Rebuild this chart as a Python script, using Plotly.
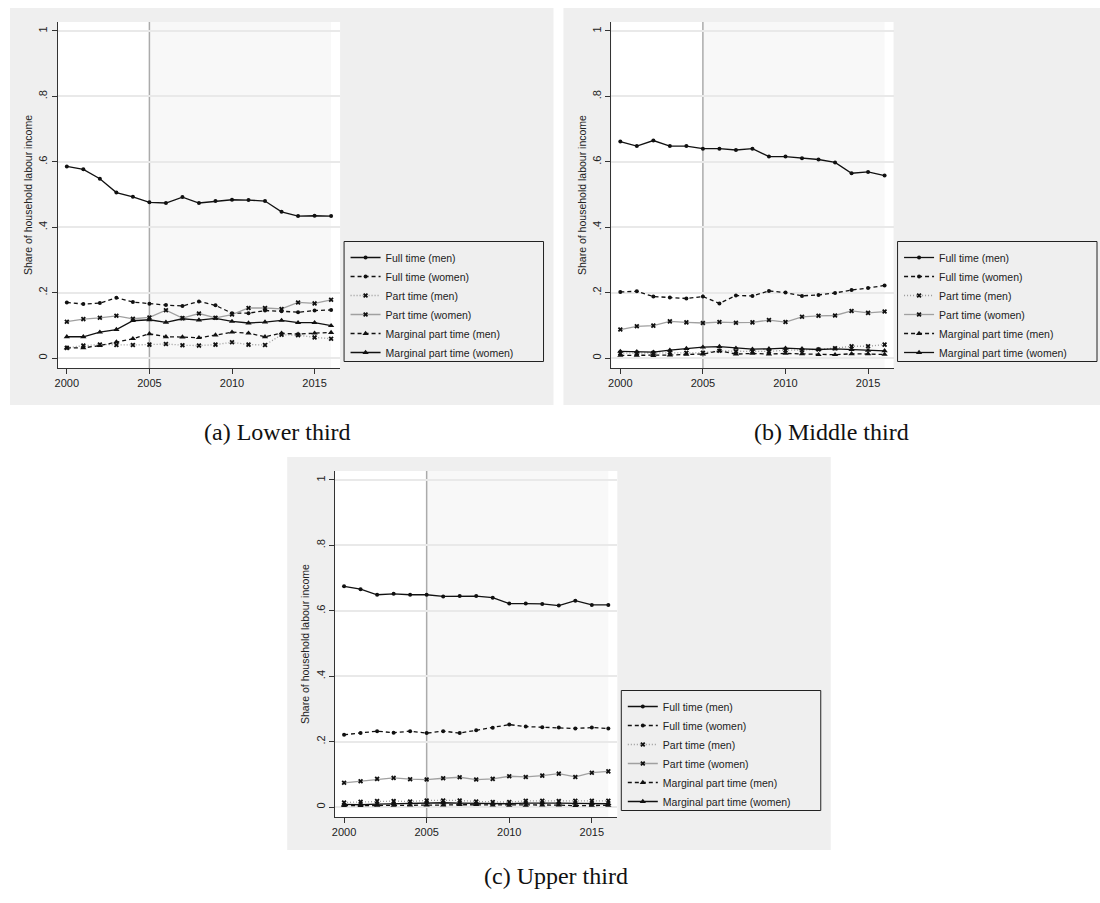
import plotly.graph_objects as go

years = list(range(2000, 2017))

series_names = [
    "Full time (men)",
    "Full time (women)",
    "Part time (men)",
    "Part time (women)",
    "Marginal part time (men)",
    "Marginal part time (women)",
]

# Lower third of the household income distribution
lower_ft_men = [0.586, 0.577, 0.548, 0.506, 0.493, 0.476, 0.474, 0.492, 0.474, 0.480,
                0.484, 0.483, 0.480, 0.447, 0.434, 0.435, 0.434]
lower_ft_women = [0.170, 0.165, 0.168, 0.184, 0.171, 0.166, 0.162, 0.159, 0.173, 0.161,
                  0.137, 0.137, 0.145, 0.143, 0.140, 0.145, 0.147]
lower_pt_men = [0.031, 0.038, 0.041, 0.040, 0.040, 0.041, 0.043, 0.039, 0.038, 0.041,
                0.048, 0.041, 0.040, 0.071, 0.070, 0.063, 0.059]
lower_pt_women = [0.111, 0.119, 0.123, 0.129, 0.120, 0.124, 0.146, 0.122, 0.136, 0.123,
                  0.133, 0.153, 0.153, 0.150, 0.170, 0.167, 0.178]
lower_mpt_men = [0.031, 0.031, 0.038, 0.049, 0.059, 0.074, 0.065, 0.064, 0.062, 0.070,
                 0.079, 0.076, 0.065, 0.076, 0.073, 0.076, 0.078]
lower_mpt_women = [0.065, 0.065, 0.079, 0.087, 0.114, 0.117, 0.109, 0.120, 0.116, 0.121,
                   0.112, 0.107, 0.110, 0.115, 0.108, 0.108, 0.099]

# Middle third
middle_ft_men = [0.662, 0.648, 0.665, 0.648, 0.648, 0.640, 0.640, 0.636, 0.640, 0.616,
                 0.616, 0.611, 0.607, 0.598, 0.565, 0.569, 0.558]
middle_ft_women = [0.202, 0.204, 0.188, 0.185, 0.182, 0.188, 0.167, 0.191, 0.190, 0.205,
                   0.200, 0.190, 0.193, 0.199, 0.208, 0.214, 0.222]
middle_pt_men = [0.015, 0.015, 0.015, 0.017, 0.016, 0.016, 0.022, 0.020, 0.020, 0.020,
                 0.024, 0.024, 0.026, 0.030, 0.036, 0.036, 0.041]
middle_pt_women = [0.087, 0.097, 0.099, 0.112, 0.109, 0.107, 0.110, 0.108, 0.109, 0.116,
                   0.110, 0.126, 0.129, 0.130, 0.144, 0.138, 0.142]
middle_mpt_men = [0.008, 0.008, 0.007, 0.009, 0.011, 0.012, 0.022, 0.012, 0.014, 0.012,
                  0.014, 0.013, 0.010, 0.010, 0.013, 0.013, 0.011]
middle_mpt_women = [0.020, 0.019, 0.018, 0.024, 0.029, 0.033, 0.035, 0.030, 0.027, 0.028,
                    0.030, 0.028, 0.026, 0.028, 0.026, 0.023, 0.022]

# Upper third
upper_ft_men = [0.675, 0.666, 0.649, 0.652, 0.649, 0.649, 0.644, 0.645, 0.645, 0.640,
                0.622, 0.622, 0.621, 0.616, 0.631, 0.618, 0.618]
upper_ft_women = [0.221, 0.226, 0.232, 0.227, 0.232, 0.226, 0.232, 0.226, 0.235, 0.242,
                  0.252, 0.246, 0.244, 0.243, 0.240, 0.243, 0.240]
upper_pt_men = [0.014, 0.016, 0.018, 0.018, 0.017, 0.020, 0.020, 0.020, 0.017, 0.015,
                0.015, 0.019, 0.019, 0.018, 0.019, 0.019, 0.019]
upper_pt_women = [0.074, 0.079, 0.086, 0.089, 0.085, 0.084, 0.088, 0.091, 0.084, 0.086,
                  0.094, 0.092, 0.096, 0.102, 0.092, 0.105, 0.109]
upper_mpt_men = [0.004, 0.004, 0.005, 0.005, 0.006, 0.006, 0.006, 0.007, 0.007, 0.006,
                 0.005, 0.005, 0.006, 0.006, 0.004, 0.005, 0.005]
upper_mpt_women = [0.008, 0.007, 0.009, 0.010, 0.013, 0.014, 0.013, 0.012, 0.011, 0.010,
                   0.010, 0.012, 0.013, 0.012, 0.011, 0.010, 0.010]

panel_captions = ["(a) Lower third", "(b) Middle third", "(c) Upper third"]
x_tick_vals = [2000, 2005, 2010, 2015]
y_tick_vals = [0, 0.2, 0.4, 0.6, 0.8, 1]
y_tick_text = ["0", ".2", ".4", ".6", ".8", "1"]
y_title = "Share of household labour income"
reform_year = 2005

panels = [
    [lower_ft_men, lower_ft_women, lower_pt_men, lower_pt_women, lower_mpt_men, lower_mpt_women],
    [middle_ft_men, middle_ft_women, middle_pt_men, middle_pt_women, middle_mpt_men, middle_mpt_women],
    [upper_ft_men, upper_ft_women, upper_pt_men, upper_pt_women, upper_mpt_men, upper_mpt_women],
]

# line / marker style for each series
styles = [
    dict(color="#111111", dash="solid", symbol="circle", size=4),
    dict(color="#111111", dash="4px,3px", symbol="circle", size=4),
    dict(color="#9a9a9a", dash="1px,2px", symbol="x", size=4.5),
    dict(color="#a0a0a0", dash="solid", symbol="x", size=4.5),
    dict(color="#111111", dash="4px,3px", symbol="triangle-up", size=5.5),
    dict(color="#111111", dash="solid", symbol="triangle-up", size=5.5),
]

W, H = 1100, 903
FONT = "Liberation Sans, Arial, sans-serif"


def px(x):
    return x / W


def py(y):
    return 1 - y / H


# pixel offsets of each panel relative to the first one
offsets = [(0, 0), (555, 0), (278, 449)]
# bottom edge of each grey panel backdrop, in pixels
bg_bottoms = [405, 405, 850]

# geometry of the first panel, in pixels
BG = (7, 8, 552)               # grey panel background (left, top, right)
PLOT = (55, 22, 338, 368)      # plot region
LEG = (342, 241.5, 542, 361.5)  # legend frame

x_range = [2000 - 9 / 16.5625, 2016 + 9 / 16.5625]
y_range = [-10 / 327.5, 1 + 9 / 327.5]

fig = go.Figure()
shapes = []
annotations = []
layout = dict(
    width=W, height=H,
    margin=dict(l=0, r=0, t=0, b=0),
    paper_bgcolor="white",
    plot_bgcolor="white",
    font=dict(family=FONT, color="#222222"),
)

for i, (dx, dy) in enumerate(offsets):
    n = "" if i == 0 else str(i + 1)
    xa, ya = "x" + n, "y" + n
    leg = "legend" + n

    # grey backdrop, then white plot region
    shapes.append(dict(type="rect", xref="paper", yref="paper", layer="below",
                       x0=px(BG[0] + dx), x1=px(min(BG[2] + dx, W)),
                       y0=py(bg_bottoms[i]), y1=py(BG[1] + dy),
                       fillcolor="#efefef", line=dict(width=0)))
    shapes.append(dict(type="rect", xref="paper", yref="paper", layer="below",
                       x0=px(PLOT[0] + dx), x1=px(PLOT[2] + dx),
                       y0=py(PLOT[3] + dy), y1=py(PLOT[1] + dy),
                       fillcolor="white", line=dict(width=0)))
    # post-reform period shading and reform line
    shapes.append(dict(type="rect", xref=xa, yref=ya + " domain", layer="below",
                       x0=reform_year, x1=years[-1], y0=0, y1=1,
                       fillcolor="#f8f8f8", line=dict(width=0)))
    shapes.append(dict(type="line", xref=xa, yref=ya + " domain", layer="below",
                       x0=reform_year, x1=reform_year, y0=0, y1=1,
                       line=dict(color="#ababab", width=1.5)))
    # legend frame
    shapes.append(dict(type="rect", xref="paper", yref="paper", layer="above",
                       x0=px(LEG[0] + dx), x1=px(LEG[2] + dx),
                       y0=py(LEG[3] + dy), y1=py(LEG[1] + dy),
                       fillcolor="rgba(255,255,255,0)",
                       line=dict(color="#222222", width=1)))

    for name, vals, st in zip(series_names, panels[i], styles):
        fig.add_trace(go.Scatter(
            x=years, y=vals, name=name, mode="lines+markers",
            xaxis=xa, yaxis=ya, legend=leg,
            line=dict(color=st["color"], dash=st["dash"], width=1.3),
            marker=dict(symbol=st["symbol"], size=st["size"], color="#111111",
                        line=dict(width=0)),
            hoverinfo="skip",
        ))

    layout["xaxis" + n] = dict(
        domain=[px(PLOT[0] + dx), px(PLOT[2] + dx)],
        range=x_range, anchor=ya,
        tickvals=x_tick_vals, ticks="outside", ticklen=5, tickwidth=1,
        tickcolor="#333333", showline=True, linecolor="#333333", linewidth=1.2,
        showgrid=False, zeroline=False,
        tickfont=dict(size=11, family=FONT, color="#222222"),
        fixedrange=True,
    )
    layout["yaxis" + n] = dict(
        domain=[py(PLOT[3] + dy), py(PLOT[1] + dy)],
        range=y_range, anchor=xa,
        tickvals=y_tick_vals, ticktext=y_tick_text, tickangle=-90,
        ticks="outside", ticklen=5, tickwidth=1, tickcolor="#333333",
        showline=True, linecolor="#333333", linewidth=1.2,
        showgrid=True, gridcolor="#e9e9e9", gridwidth=1.5, zeroline=False,
        tickfont=dict(size=11, family=FONT, color="#222222"),
        title=dict(text=y_title, font=dict(size=10.5, family=FONT, color="#222222"),
                   standoff=2),
        fixedrange=True,
    )
    layout[leg] = dict(
        x=px(LEG[0] + dx + 1.5), y=py(LEG[1] + dy + 1.5),
        xanchor="left", yanchor="top",
        bgcolor="rgba(255,255,255,0)", borderwidth=0,
        font=dict(size=10.5, family=FONT, color="#222222"),
        itemwidth=30, tracegroupgap=0,
    )

caption_pos = [(275, 432), (831, 432), (555, 876)]
for text, (cx, cy) in zip(panel_captions, caption_pos):
    annotations.append(dict(
        text=text, x=px(cx), y=py(cy), xref="paper", yref="paper",
        xanchor="center", yanchor="middle", showarrow=False,
        font=dict(size=24, family="Liberation Serif, DejaVu Serif, serif", color="#111111"),
    ))

layout["shapes"] = shapes
layout["annotations"] = annotations
fig.update_layout(**layout)

fig.write_html("out.html")
